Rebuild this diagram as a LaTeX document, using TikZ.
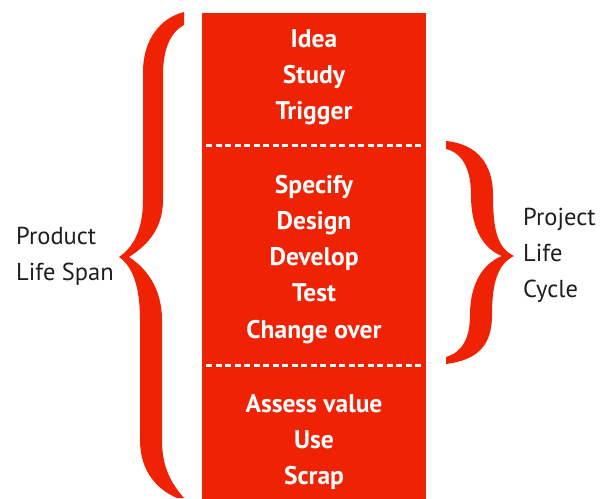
\documentclass[tikz,border=0pt]{standalone}
\usepackage{fontspec}
\setmainfont{PT Sans}
\definecolor{lred}{RGB}{240,34,4}
\definecolor{ink}{RGB}{30,30,30}
\tikzset{
  stage/.style={anchor=base, text=white, font=\fontsize{25.5}{28}\selectfont\bfseries, inner sep=0pt},
  side/.style={anchor=base west, text=ink, font=\fontsize{24.5}{28}\selectfont, inner sep=0pt},
  divider/.style={white, line width=3pt, dash pattern=on 6pt off 3.5pt},
  bracefill/.style={fill=lred, draw=none}
}
\begin{document}
\begin{tikzpicture}[x=1pt,y=-1pt]
\useasboundingbox (0,0) rectangle (610,498);
\fill[white] (0,0) rectangle (610,498);
% main column
\node[fill=lred, minimum width=224pt, minimum height=486pt, inner sep=0pt, anchor=north west] (col) at (202,13) {};
% dividers
\coordinate (d1a) at (206,145); \coordinate (d1b) at (421,145);
\coordinate (d2a) at (206,365); \coordinate (d2b) at (421,365);
\draw[divider] (d1a) -- (d1b);
\draw[divider] (d2a) -- (d2b);
% stage texts
\node[stage] (idea) at (314,47) {Idea};
\node[stage] (study) at (314,83) {Study};
\node[stage] (trigger) at (314,119) {Trigger};
\node[stage] (specify) at (314,193) {Specify};
\node[stage] (design) at (314,229) {Design};
\node[stage] (develop) at (314,265) {Develop};
\node[stage] (test) at (314,301) {Test};
\node[stage] (change) at (314,338) {Change over};
\node[stage] (assess) at (314,412) {Assess value};
\node[stage] (use) at (314,448) {Use};
\node[stage] (scrap) at (314,484) {Scrap};
% left brace
\path[bracefill] (184,12) .. controls (160,18) and (143,40) .. (143,72)
  -- (143,200) .. controls (143,232) and (132,248) .. (119,257)
  .. controls (132,266) and (140,285) .. (140,320)
  -- (140,440) .. controls (140,472) and (158,490) .. (177,498)
  -- (184,498) .. controls (170,482) and (162,466) .. (162,440)
  -- (162,320) .. controls (162,288) and (146,268) .. (129,257)
  .. controls (146,246) and (163,230) .. (163,200)
  -- (163,75) .. controls (163,48) and (171,32) .. (184,25) -- cycle;
% right brace
\path[bracefill] (446,141) .. controls (478,144) and (493,165) .. (493,195)
  .. controls (493,232) and (498,248) .. (514,256)
  .. controls (498,264) and (492,282) .. (492,315)
  .. controls (492,345) and (478,360) .. (446,364)
  -- (446,357) .. controls (463,352) and (470,337) .. (470,315)
  .. controls (470,280) and (486,262) .. (502,256)
  .. controls (486,250) and (471,232) .. (471,195)
  .. controls (471,170) and (463,153) .. (446,149) -- cycle;
% side labels
\node[side] (pls1) at (16,244) {Product};
\node[side] (pls2) at (16,280) {Life Span};
\node[side] (plc1) at (523,225) {Project};
\node[side] (plc2) at (523,261) {Life};
\node[side] (plc3) at (523,297) {Cycle};
\end{tikzpicture}
\end{document}
